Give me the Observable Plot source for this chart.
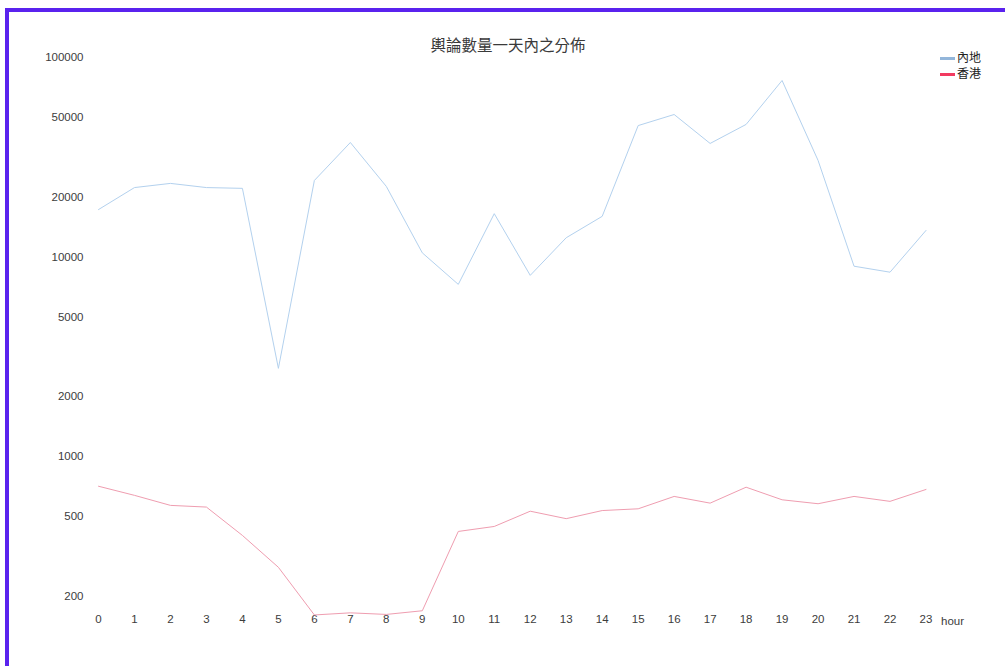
<!DOCTYPE html>
<html>
<head>
<meta charset="utf-8">
<script src="https://cdn.jsdelivr.net/npm/d3@7"></script>
<script src="https://cdn.jsdelivr.net/npm/@observablehq/plot@0.6"></script>
<style>
  html, body { margin: 0; padding: 0; background: #fff; }
  #wrap { position: relative; width: 1005px; height: 666px; overflow: hidden; font-family: "Liberation Sans", Arial, sans-serif; }
  #frame { position: absolute; left: 5px; top: 8px; width: 1000px; height: 658px; border-top: 4px solid #5a22ee; border-left: 4px solid #5a22ee; box-sizing: border-box; pointer-events: none; }
  #title { position: absolute; left: 0; width: 1016px; top: 33px; text-align: center; font-family: "Noto Sans CJK TC", sans-serif; font-size: 15.5px; color: #3a3a3a; }
  #legend { position: absolute; left: 940px; top: 49px; font-family: "Noto Sans CJK TC", sans-serif; font-size: 12px; color: #222; line-height: 16px; }
  #legend .sw { display: inline-block; width: 15px; height: 3px; vertical-align: middle; margin-right: 2px; }
  #chart { position: absolute; left: 0; top: 0; }
</style>
</head>
<body>
<div id="wrap">
  <div id="chart"></div>
  <div id="title">輿論數量一天內之分佈</div>
  <div id="legend">
    <div><span class="sw" style="background:#93b6da"></span>內地</div>
    <div><span class="sw" style="background:#f23a60"></span>香港</div>
  </div>
  <div id="frame"></div>
</div>
<script>
const hours = [0,1,2,3,4,5,6,7,8,9,10,11,12,13,14,15,16,17,18,19,20,21,22,23];
const seriesNames = ["內地", "香港"];
const mainland = [17300,22300,23400,22300,22100,2770,24200,37500,22600,10500,7300,16500,8100,12500,16000,45600,51800,37100,46200,76700,30500,9000,8400,13600];
const hongkong = [711,640,570,559,403,279,161,165,162,169,422,447,533,489,537,548,632,585,703,608,581,632,597,685];
const yTicks = [100000,50000,20000,10000,5000,2000,1000,500,200];
const xLabel = "hour";

const data = [];
hours.forEach((h, i) => {
  data.push({hour: h, series: seriesNames[0], value: mainland[i]});
  data.push({hour: h, series: seriesNames[1], value: hongkong[i]});
});

const chart = Plot.plot({
  width: 1005,
  height: 666,
  marginLeft: 98,
  marginRight: 79.5,
  marginTop: 57,
  marginBottom: 45.4,
  style: {fontFamily: '"Liberation Sans", Arial, sans-serif', fontSize: "11.5px", color: "#3c3c3c", background: "transparent"},
  x: {domain: [0, 23], axis: null},
  y: {type: "log", domain: [150, 100000], axis: null},
  color: {domain: seriesNames, range: ["#b3d1ee", "#ef9db0"]},
  marks: [
    Plot.text(yTicks, {y: d => d, text: d => d3.format("d")(d), frameAnchor: "left", dx: -15, textAnchor: "end", lineAnchor: "middle", fill: "#3c3c3c"}),
    Plot.axisX({ticks: hours, tickFormat: d3.format("d"), tickSize: 0, tickPadding: 0, dy: -6, label: null}),
    Plot.text([xLabel], {frameAnchor: "bottom-right", text: d => d, dx: 26.5, dy: 0, fill: "#3c3c3c", textAnchor: "middle", lineAnchor: "middle"}),
    Plot.line(data, {x: "hour", y: "value", z: "series", stroke: "series", strokeWidth: 1})
  ]
});
document.getElementById("chart").appendChild(chart);
</script>
</body>
</html>
